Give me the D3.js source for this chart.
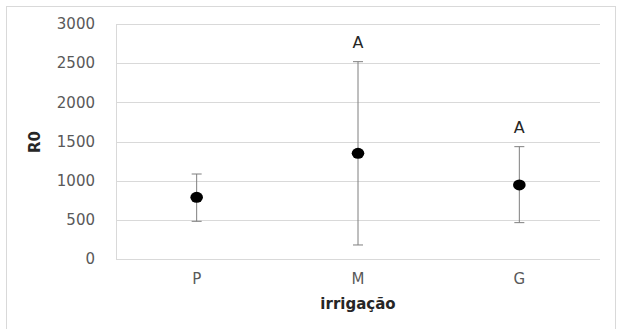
<!DOCTYPE html>
<html>
<head>
<meta charset="utf-8">
<script src="https://cdn.jsdelivr.net/npm/d3@7"></script>
<style>
  body { margin: 0; background: #fff; }
  text { font-family: "DejaVu Sans", sans-serif; }
</style>
</head>
<body>
<svg id="chart"></svg>
<script>
const width = 619;
const height = 329;

// dados
const categories = ['P', 'M', 'G'];
const means = [788, 1349, 945];
const upper = [1085, 2519, 1434];
const lower = [481, 179, 464];
const letters = ['', 'A', 'A'];
const yTicks = [0, 500, 1000, 1500, 2000, 2500, 3000];

const margin = { left: 116, right: 19, top: 24, bottom: 70 };

const svg = d3.select('#chart')
  .attr('width', width)
  .attr('height', height);

// moldura externa
svg.append('rect')
  .attr('x', 6.5)
  .attr('y', 6.5)
  .attr('width', 609)
  .attr('height', 340)
  .attr('fill', 'none')
  .attr('stroke', '#d9d9d9');

const x = d3.scaleBand()
  .domain(categories)
  .range([margin.left, width - margin.right]);

const y = d3.scaleLinear()
  .domain([0, 3000])
  .range([259, margin.top]);

// linhas de grade
svg.append('g')
  .selectAll('line')
  .data(yTicks)
  .enter()
  .append('line')
  .attr('x1', margin.left)
  .attr('x2', width - margin.right)
  .attr('y1', d => Math.round(y(d)) + 0.5)
  .attr('y2', d => Math.round(y(d)) + 0.5)
  .attr('stroke', '#d9d9d9');

svg.append('line')
  .attr('x1', margin.left + 0.5)
  .attr('x2', margin.left + 0.5)
  .attr('y1', y(3000))
  .attr('y2', y(0))
  .attr('stroke', '#d9d9d9');

// eixo y
const yAxis = d3.axisLeft(y).tickValues(yTicks).tickSize(0).tickPadding(21).tickFormat(d3.format('d'));
const yg = svg.append('g')
  .attr('transform', `translate(${margin.left}, 0)`)
  .call(yAxis);
yg.select('.domain').remove();
yg.selectAll('text')
  .attr('fill', '#595959')
  .style('font-family', '"DejaVu Sans", sans-serif')
  .style('font-size', '15px');

// eixo x
const xAxis = d3.axisBottom(x).tickSize(0).tickPadding(14);
const xg = svg.append('g')
  .attr('transform', `translate(0, ${y(0)})`)
  .call(xAxis);
xg.select('.domain').remove();
xg.selectAll('text')
  .attr('fill', '#595959')
  .style('font-family', '"DejaVu Sans", sans-serif')
  .style('font-size', '15px');

// barras de erro
const cx = d => x(d) + x.bandwidth() / 2;
const eb = svg.append('g')
  .selectAll('g')
  .data(categories)
  .enter()
  .append('g');
eb.append('line')
  .attr('x1', d => cx(d))
  .attr('x2', d => cx(d))
  .attr('y1', (d, i) => y(upper[i]))
  .attr('y2', (d, i) => y(lower[i]))
  .attr('stroke', '#7f7f7f');
eb.append('line')
  .attr('x1', d => cx(d) - 5)
  .attr('x2', d => cx(d) + 5)
  .attr('y1', (d, i) => y(upper[i]))
  .attr('y2', (d, i) => y(upper[i]))
  .attr('stroke', '#7f7f7f');
eb.append('line')
  .attr('x1', d => cx(d) - 5)
  .attr('x2', d => cx(d) + 5)
  .attr('y1', (d, i) => y(lower[i]))
  .attr('y2', (d, i) => y(lower[i]))
  .attr('stroke', '#7f7f7f');

// pontos
eb.append('ellipse')
  .attr('cx', d => cx(d))
  .attr('cy', (d, i) => y(means[i]))
  .attr('rx', 6.3)
  .attr('ry', 5.5)
  .attr('fill', '#000');

// letras
eb.append('text')
  .attr('x', d => cx(d))
  .attr('y', (d, i) => y(upper[i]) - 14)
  .attr('text-anchor', 'middle')
  .attr('fill', '#262626')
  .style('font-size', '16px')
  .text((d, i) => letters[i]);

// títulos dos eixos
svg.append('text')
  .attr('x', 358)
  .attr('y', 309)
  .attr('text-anchor', 'middle')
  .attr('fill', '#262626')
  .style('font-size', '15px')
  .style('font-weight', 'bold')
  .text('irrigação');

svg.append('text')
  .attr('transform', 'translate(40, 142) rotate(-90)')
  .attr('text-anchor', 'middle')
  .attr('fill', '#262626')
  .style('font-size', '15px')
  .style('font-weight', 'bold')
  .text('R0');
</script>
</body>
</html>
